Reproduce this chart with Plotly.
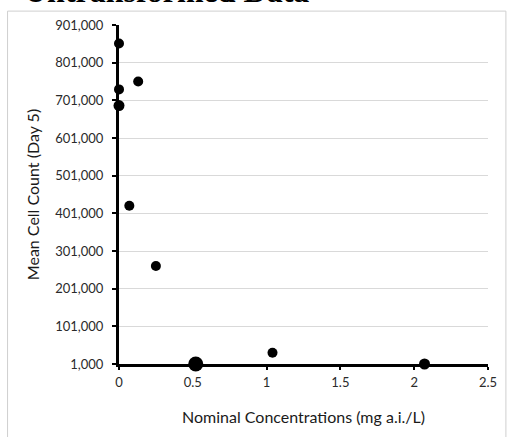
import plotly.graph_objects as go

# Data
conc = [0, 0, 0, 0.13, 0.07, 0.25, 0.52, 1.04, 2.07]
mean_count = [852000, 730000, 687000, 751000, 421000, 261000, 1000, 31000, 1000]
y_ticks = [1000, 101000, 201000, 301000, 401000, 501000, 601000, 701000, 801000, 901000]
x_ticks = [0, 0.5, 1, 1.5, 2, 2.5]
x_tick_labels = ["0", "0.5", "1", "1.5", "2", "2.5"]

# styling
marker_sizes = [10, 10, 11, 10, 10, 10, 15, 10, 11]

fig = go.Figure()
fig.add_trace(go.Scatter(
    x=conc, y=mean_count, mode="markers",
    marker=dict(color="black", size=marker_sizes, opacity=1, line=dict(width=0)),
    cliponaxis=False, showlegend=False,
))

tick_font = dict(family="Lato, Noto Sans, sans-serif", size=13, color="#2a2a2a")
title_font = dict(family="Lato, Noto Sans, sans-serif", size=16, color="#1a1a1a")

fig.update_layout(
    width=509, height=437,
    margin=dict(l=119, r=19, t=25, b=73),
    paper_bgcolor="white", plot_bgcolor="white",
    xaxis=dict(
        range=[0, 2.5], tickvals=x_ticks, ticktext=x_tick_labels,
        showgrid=False, zeroline=False,
        showline=True, linecolor="black", linewidth=3,
        ticks="outside", ticklen=3, tickwidth=2, tickcolor="black",
        tickfont=tick_font, ticklabelstandoff=1,
        title=dict(text="Nominal Concentrations (mg a.i./L)", font=title_font, standoff=24),
    ),
    yaxis=dict(
        range=[1000, 901000], tickvals=y_ticks, tickformat=",d",
        showgrid=True, gridcolor="#d9d9d9", gridwidth=1, zeroline=False,
        showline=True, linecolor="black", linewidth=3,
        ticks="outside", ticklen=4, tickwidth=2, tickcolor="black",
        tickfont=tick_font, ticklabelstandoff=6,
        title=dict(text="Mean Cell Count (Day 5)", font=title_font, standoff=12),
    ),
    shapes=[dict(
        type="rect", xref="paper", yref="paper",
        x0=-0.302, x1=1.0485, y0=-0.24, y1=1.041,
        line=dict(color="#cfcfcf", width=1), layer="below",
    )],
    annotations=[dict(
        text="<b>Untransformed Data</b>", xref="paper", yref="paper",
        x=-0.264, y=1.04, xanchor="left", yanchor="bottom", showarrow=False,
        font=dict(family="Liberation Serif, Times New Roman, serif", size=32, color="black"),
    )],
)

fig.write_html("out.html", config={"displayModeBar": False},
               post_script="document.body.style.margin='0';")
